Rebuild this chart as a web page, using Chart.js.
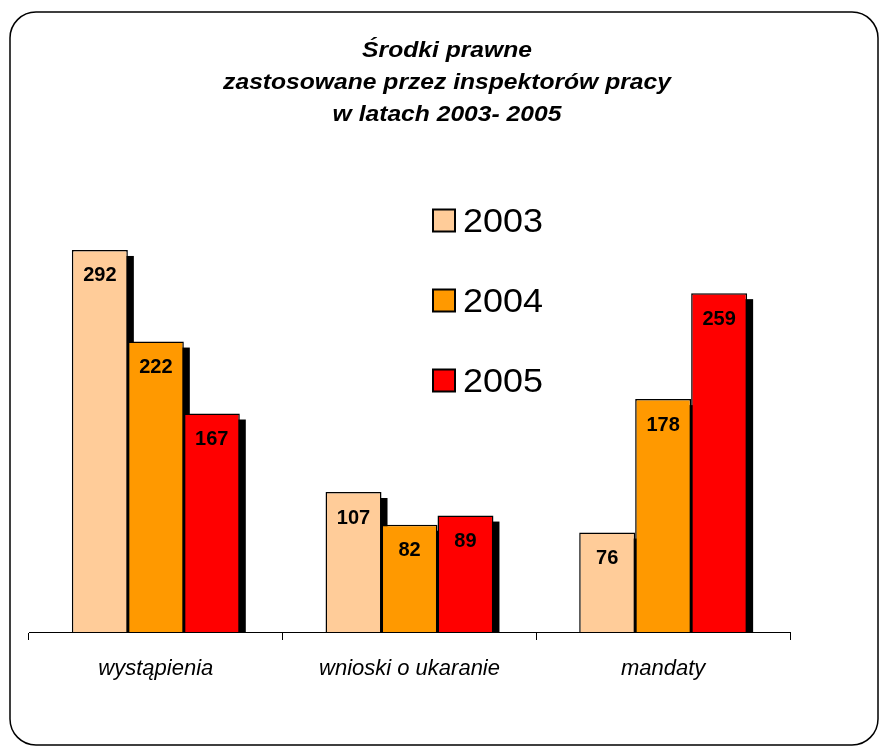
<!DOCTYPE html>
<html>
<head>
<meta charset="utf-8">
<script src="https://cdn.jsdelivr.net/npm/chart.js@4"></script>
<style>
html,body{margin:0;padding:0;background:#fff;}
#wrap{width:880px;height:746px;position:relative;}
</style>
</head>
<body>
<div id="wrap"><canvas id="c" width="880" height="746"></canvas></div>
<script>
const categories = ['wystąpienia', 'wnioski o ukaranie', 'mandaty'];
const seriesLabels = ['2003', '2004', '2005'];
const values2003 = [292, 107, 76];
const values2004 = [222, 82, 178];
const values2005 = [167, 89, 259];
const seriesColors = ['#FFCC99', '#FF9900', '#FF0000'];
const titleLines = ['Środki prawne', 'zastosowane przez inspektorów pracy', 'w latach 2003- 2005'];

const FONT = 'Arial, "Liberation Sans", sans-serif';

const frame = {
  id: 'frame',
  beforeDraw(chart) {
    const ctx = chart.ctx;
    ctx.save();
    ctx.fillStyle = '#fff';
    ctx.fillRect(0, 0, chart.width, chart.height);
    ctx.strokeStyle = '#000';
    ctx.lineWidth = 1.5;
    ctx.beginPath();
    ctx.roundRect(10, 12, 868, 733, 26);
    ctx.stroke();
    ctx.restore();
  }
};

const titleDraw = {
  id: 'titleDraw',
  afterDraw(chart) {
    const ctx = chart.ctx;
    ctx.save();
    ctx.fillStyle = '#000';
    ctx.font = 'italic bold 22px ' + FONT;
    ctx.textAlign = 'center';
    ctx.textBaseline = 'alphabetic';
    titleLines.forEach((t, i) => {
      ctx.save();
      ctx.translate(447, 57 + i * 32);
      ctx.scale(1.12, 1);
      ctx.fillText(t, 0, 0);
      ctx.restore();
    });
    ctx.restore();
  }
};

const shadow = {
  id: 'shadow',
  beforeDatasetsDraw(chart) {
    const ctx = chart.ctx, a = chart.chartArea;
    ctx.save();
    ctx.beginPath();
    ctx.rect(a.left, a.top - 20, a.right - a.left + 20, a.bottom - a.top + 20);
    ctx.clip();
    ctx.fillStyle = '#000';
    chart.data.datasets.forEach((ds, i) => {
      chart.getDatasetMeta(i).data.forEach(bar => {
        const w = bar.width;
        ctx.fillRect(bar.x - w / 2 + 6, bar.y + 6, w, bar.base - bar.y - 6);
      });
    });
    ctx.restore();
  }
};

const valueLabels = {
  id: 'valueLabels',
  afterDatasetsDraw(chart) {
    const ctx = chart.ctx;
    ctx.save();
    ctx.fillStyle = '#000';
    ctx.font = 'bold 20px ' + FONT;
    ctx.textAlign = 'center';
    ctx.textBaseline = 'middle';
    chart.data.datasets.forEach((ds, i) => {
      chart.getDatasetMeta(i).data.forEach((bar, j) => {
        ctx.fillText(String(ds.data[j]), bar.x, bar.y + 26);
      });
    });
    ctx.restore();
  }
};

const customLegend = {
  id: 'customLegend',
  afterDraw(chart) {
    const ctx = chart.ctx;
    ctx.save();
    chart.data.datasets.forEach((ds, i) => {
      const cy = 220.5 + i * 80;
      ctx.fillStyle = ds.backgroundColor;
      ctx.fillRect(433, cy - 11, 22, 22);
      ctx.strokeStyle = '#000';
      ctx.lineWidth = 2;
      ctx.strokeRect(433, cy - 11, 22, 22);
      ctx.fillStyle = '#000';
      ctx.font = '33px ' + FONT;
      ctx.textAlign = 'left';
      ctx.textBaseline = 'alphabetic';
      ctx.save();
      ctx.translate(463, cy + 11.5);
      ctx.scale(1.09, 1);
      ctx.fillText(ds.label, 0, 0);
      ctx.restore();
    });
    ctx.restore();
  }
};

const seriesValues = [values2003, values2004, values2005];

new Chart(document.getElementById('c'), {
  type: 'bar',
  data: {
    labels: categories,
    datasets: seriesLabels.map((lab, i) => ({
      label: lab,
      data: seriesValues[i],
      backgroundColor: seriesColors[i],
      borderColor: '#000',
      borderWidth: 1.5,
      borderSkipped: 'bottom',
      categoryPercentage: 0.662,
      barPercentage: 1.0
    }))
  },
  options: {
    responsive: false,
    animation: false,
    devicePixelRatio: 1,
    layout: { padding: { top: 239.5, left: 29, right: 90, bottom: 47.6 } },
    plugins: {
      legend: { display: false },
      tooltip: { enabled: false },
      title: { display: false }
    },
    scales: {
      x: {
        offset: true,
        border: { display: true, color: '#000', width: 1 },
        grid: { display: true, drawOnChartArea: false, drawTicks: true, tickLength: 8, color: '#000', offset: true },
        ticks: { color: '#000', padding: 16, font: { family: FONT, size: 22, style: 'italic' } }
      },
      y: {
        display: false,
        min: 0,
        max: 300
      }
    }
  },
  plugins: [frame, shadow, valueLabels, customLegend, titleDraw]
});
</script>
</body>
</html>
